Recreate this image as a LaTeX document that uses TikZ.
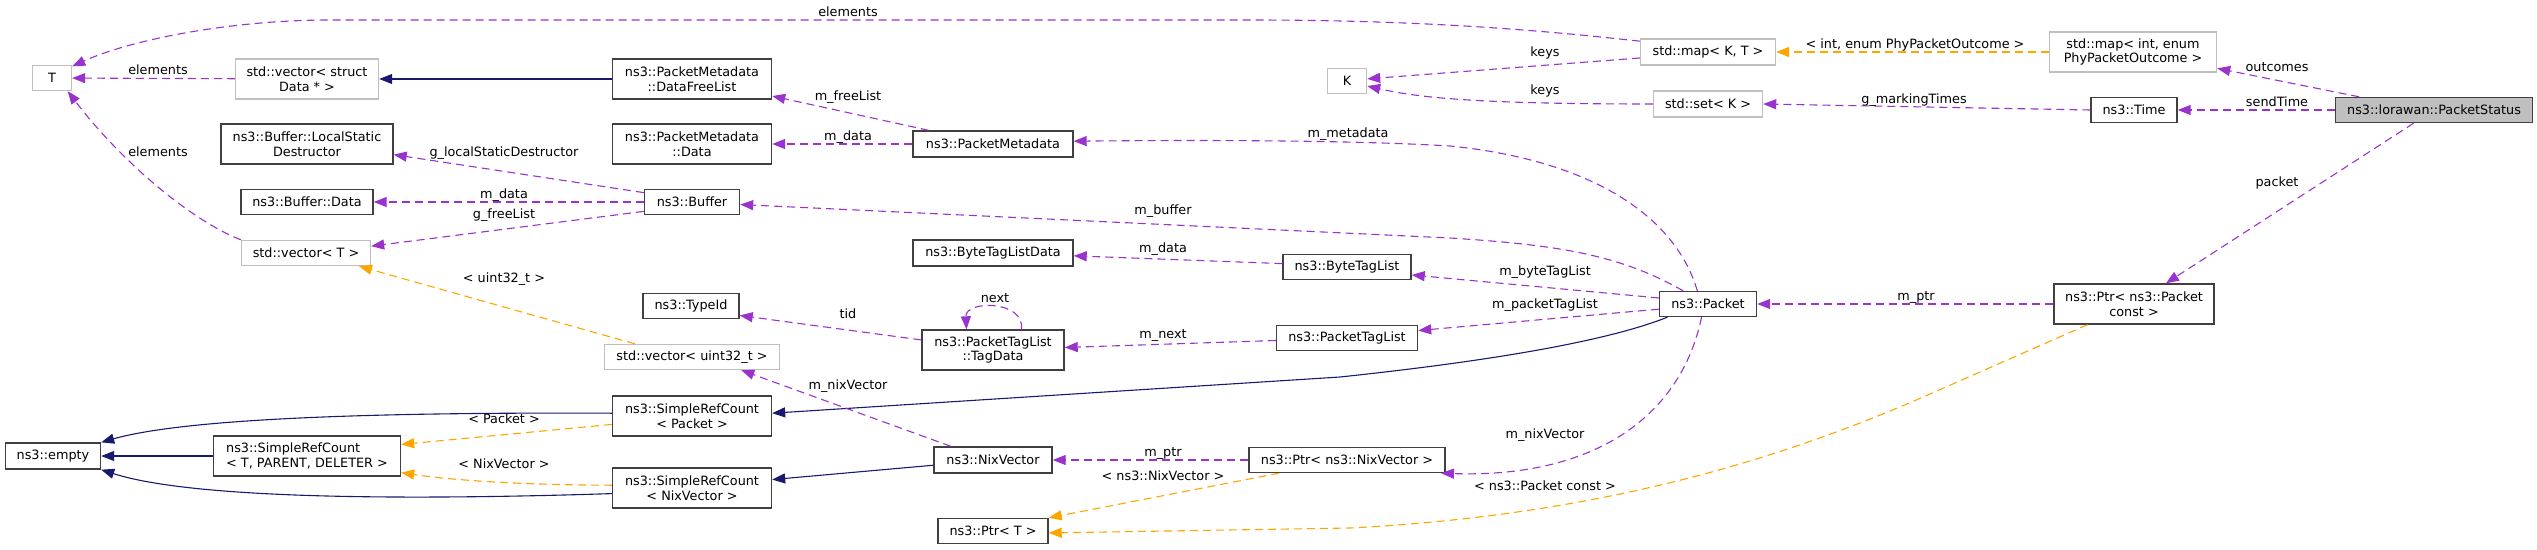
\documentclass[tikz,border=0pt]{standalone}
\usepackage{fontspec}
\setmainfont{DejaVu Sans}
\usetikzlibrary{arrows.meta}
\definecolor{usec}{HTML}{9A32CD}
\definecolor{tmplc}{HTML}{FFA500}
\definecolor{inhc}{HTML}{191970}
\definecolor{docb}{HTML}{404040}
\definecolor{undocb}{HTML}{BFBFBF}
\definecolor{curfill}{HTML}{BFBFBF}
\begin{document}
\begin{tikzpicture}[x=1pt,y=-1pt,
  every node/.style={font=\fontsize{12.8}{14.5}\selectfont, inner sep=0pt},
  doc/.style={draw=docb, line width=1.4pt, fill=white, align=center},
  undoc/.style={draw=undocb, line width=1.4pt, fill=white, align=center},
  cur/.style={draw=docb, line width=1.4pt, fill=curfill, align=center},
  sz/.style 2 args={minimum width=#1pt, minimum height=#2pt},
  tip/.style={-{Triangle[length=13pt,width=10pt]}},
  usee/.style={draw=usec, line width=1.1pt, dash pattern=on 8pt off 5pt, tip},
  tmpl/.style={draw=tmplc, line width=1.1pt, dash pattern=on 8pt off 5pt, tip},
  inh/.style={draw=inhc, line width=1.1pt, tip},
  lbl/.style={text height=9.2pt, text depth=3pt}
]
\useasboundingbox (0,0) rectangle (2537,549);

% nodes
\node[undoc, sz={39}{25}] (T) at (52,78) {T};
\node[undoc, sz={143}{40}] (vecStruct) at (307,79) {std::vector< struct\\Data * >};
\node[doc, sz={172}{40}] (LSD) at (307,144) {ns3::Buffer::LocalStatic\\Destructor};
\node[doc, sz={132}{25}] (BufData) at (307,202) {ns3::Buffer::Data};
\node[undoc, sz={129}{25}] (vecT) at (306,253) {std::vector< T >};
\node[doc, sz={95}{26}] (empty) at (53,456) {ns3::empty};
\node[doc, sz={187}{40}, align=left] (SRC) at (307,456) {ns3::SimpleRefCount\\< T, PARENT, DELETER >};
\node[doc, sz={159}{40}] (DFL) at (692,79) {ns3::PacketMetadata\\::DataFreeList};
\node[doc, sz={159}{40}] (PMData) at (692,144) {ns3::PacketMetadata\\::Data};
\node[doc, sz={95}{25}] (Buffer) at (692,202) {ns3::Buffer};
\node[doc, sz={96}{25}] (TypeId) at (691,306) {ns3::TypeId};
\node[undoc, sz={175}{25}] (vecU) at (692,357) {std::vector< uint32\_t >};
\node[doc, sz={159}{40}] (SRCP) at (692,416) {ns3::SimpleRefCount\\< Packet >};
\node[doc, sz={159}{40}] (SRCN) at (692,488) {ns3::SimpleRefCount\\< NixVector >};
\node[doc, sz={160}{26}] (PM) at (993,144) {ns3::PacketMetadata};
\node[doc, sz={160}{26}] (BTLD) at (993,253) {ns3::ByteTagListData};
\node[doc, sz={142}{40}] (TagData) at (993,350) {ns3::PacketTagList\\::TagData};
\node[doc, sz={118}{26}] (Nix) at (993,460) {ns3::NixVector};
\node[doc, sz={110}{25}] (PtrT) at (993,531) {ns3::Ptr< T >};
\node[undoc, sz={39}{25}] (K) at (1347,81) {K};
\node[doc, sz={128}{25}] (BTL) at (1347,267) {ns3::ByteTagList};
\node[doc, sz={141}{25}] (PTL) at (1347,338) {ns3::PacketTagList};
\node[doc, sz={196}{25}] (PtrNix) at (1347,460) {ns3::Ptr< ns3::NixVector >};
\node[undoc, sz={135}{26}] (mapKT) at (1708,52) {std::map< K, T >};
\node[undoc, sz={109}{26}] (setK) at (1708,104) {std::set< K >};
\node[doc, sz={97}{25}] (Packet) at (1708,304) {ns3::Packet};
\node[undoc, sz={167}{40}] (mapInt) at (2133,52) {std::map< int, enum\\PhyPacketOutcome >};
\node[doc, sz={86}{25}] (Time) at (2134,110) {ns3::Time};
\node[doc, sz={160}{40}] (PtrPkt) at (2134,304) {ns3::Ptr< ns3::Packet\\const >};
\node[cur, sz={197}{25}] (PS) at (2434,110) {ns3::lorawan::PacketStatus};

% connectors
\draw[usee] (mapKT.171) .. controls (1540,30) and (1420,20) .. (1250,20) -- (330,20) .. controls (230,20) and (130,40) .. (T.30);
\draw[usee] (vecStruct) -- (T);
\draw[usee] (vecT.north west) .. controls (190,220) and (120,160) .. (T.-40);
\draw[inh] (DFL) -- (vecStruct);
\draw[usee] (PM.168) -- (DFL.-12);
\draw[usee] (PM) -- (PMData);
\draw[usee] (Packet.129) .. controls (1675,215) and (1590,160) .. (1450,146) .. controls (1350,140) and (1200,140) .. (PM.2);
\draw[usee] (Buffer.169) -- (LSD.-7);
\draw[usee] (Buffer) -- (BufData);
\draw[usee] (Buffer.191) -- (vecT.6);
\draw[usee] (Packet.152) .. controls (1620,255) and (1560,245) .. (1450,238) -- (Buffer.-3);
\draw[usee] (BTL.177) -- (BTLD.-2);
\draw[usee] (Packet.173) -- (BTL.-7);
\draw[usee] (Packet.186) -- (PTL.6);
\draw[usee] (PTL.182) -- (TagData.2);
\draw[usee] (TagData.36) .. controls (1025,300) and (965,300) .. (TagData.142);
\draw[usee] (TagData.172) -- (TypeId.-11);
\draw[inh] (Packet.198) .. controls (1610,340) and (1500,360) .. (1340,377) -- (SRCP.2);
\draw[usee] (Nix.162) -- (vecU.-15);
\draw[inh] (Nix.185) -- (SRCN.6);
\draw[usee] (PtrNix) -- (Nix);
\draw[usee] (Packet.244) .. controls (1680,420) and (1590,478) .. (PtrNix.-8);
\draw[tmpl] (PtrNix.191) -- (PtrT.north east);
\draw[tmpl] (PtrPkt.204) -- (1930,394) .. controls (1780,460) and (1600,515) .. (1350,528) -- (PtrT.-2);
\draw[usee] (PtrPkt) -- (Packet);
\draw[usee] (PS) -- (PtrPkt);
\draw[usee] (PS) -- (Time);
\draw[usee] (PS.170) -- (mapInt.-11);
\draw[tmpl] (mapInt) -- (mapKT);
\draw[usee] (Time.west) -- (setK.east);
\draw[usee] (mapKT.185) -- (K.6);
\draw[usee] (setK.west) .. controls (1480,104) and (1420,98) .. (K.-14);
\draw[tmpl] (SRCP.186) -- (SRC.7);
\draw[tmpl] (SRCN.178) .. controls (520,485) and (450,480) .. (SRC.-10);
\draw[tmpl] (vecU.167) -- (vecT.-14);
\draw[inh] (SRC) -- (empty);
\draw[inh] (SRCP.178) .. controls (350,412) and (180,420) .. (empty.north east);
\draw[inh] (SRCN.184) .. controls (350,502) and (180,495) .. (empty.south east);

% labels
\node[lbl] (l1) at (848,13) {elements};
\node[lbl] (l2) at (158,71) {elements};
\node[lbl] (l3) at (158,153) {elements};
\node[lbl] (l4) at (848,97) {m\_freeList};
\node[lbl] (l5) at (848,137) {m\_data};
\node[lbl] (l6) at (504,153) {g\_localStaticDestructor};
\node[lbl] (l7) at (504,195) {m\_data};
\node[lbl] (l8) at (504,215) {g\_freeList};
\node[lbl] (l9) at (504,279) {< uint32\_t >};
\node[lbl] (l10) at (504,420) {< Packet >};
\node[lbl] (l11) at (504,465) {< NixVector >};
\node[lbl] (l12) at (1163,211) {m\_buffer};
\node[lbl] (l13) at (1163,249) {m\_data};
\node[lbl] (l14) at (848,315) {tid};
\node[lbl] (l15) at (995,299) {next};
\node[lbl] (l16) at (1163,335) {m\_next};
\node[lbl] (l17) at (848,386) {m\_nixVector};
\node[lbl] (l18) at (1163,453) {m\_ptr};
\node[lbl] (l19) at (1163,477) {< ns3::NixVector >};
\node[lbl] (l20) at (1545,53) {keys};
\node[lbl] (l21) at (1545,91) {keys};
\node[lbl] (l22) at (1348,134) {m\_metadata};
\node[lbl] (l23) at (1545,272) {m\_byteTagList};
\node[lbl] (l24) at (1545,305) {m\_packetTagList};
\node[lbl] (l25) at (1545,435) {m\_nixVector};
\node[lbl] (l26) at (1545,487) {< ns3::Packet const >};
\node[lbl] (l27) at (1915,45) {< int, enum PhyPacketOutcome >};
\node[lbl] (l28) at (1914,100) {g\_markingTimes};
\node[lbl] (l29) at (1916,297) {m\_ptr};
\node[lbl] (l30) at (2277,68) {outcomes};
\node[lbl] (l31) at (2277,103) {sendTime};
\node[lbl] (l32) at (2277,183) {packet};
\end{tikzpicture}
\end{document}
